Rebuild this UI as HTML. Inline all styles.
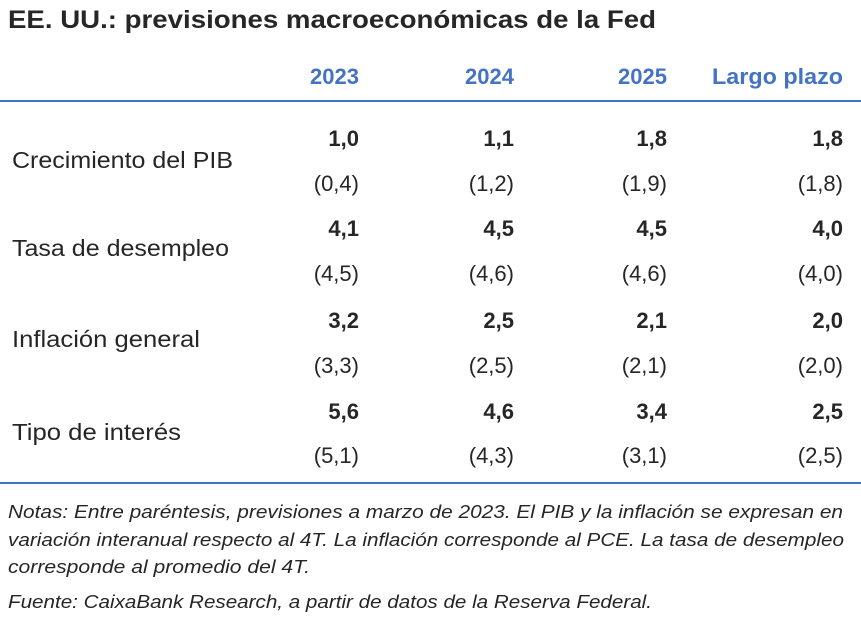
<!DOCTYPE html>
<html><head><meta charset="utf-8"><style>
html,body{margin:0;padding:0;background:#fff;}
svg{display:block;font-family:"Liberation Sans",sans-serif;}
</style></head><body>
<svg width="861" height="618" viewBox="0 0 861 618" xmlns="http://www.w3.org/2000/svg">
<text x="8" y="28" font-size="25" font-weight="bold" fill="#262626" textLength="648" lengthAdjust="spacingAndGlyphs">EE. UU.: previsiones macroeconómicas de la Fed</text>
<g font-size="22" font-weight="bold" fill="#4472C4" text-anchor="end">
<text x="359" y="84">2023</text><text x="514" y="84">2024</text><text x="667" y="84">2025</text><text x="843" y="84" textLength="131" lengthAdjust="spacingAndGlyphs">Largo plazo</text>
</g>
<rect x="0" y="100" width="861" height="2" fill="#4472C4"/>
<rect x="0" y="482" width="861" height="2" fill="#4472C4"/>
<g font-size="23" fill="#262626">
<text x="12" y="168" textLength="221" lengthAdjust="spacingAndGlyphs">Crecimiento del PIB</text>
<text x="12" y="256" textLength="217" lengthAdjust="spacingAndGlyphs">Tasa de desempleo</text>
<text x="12" y="347" textLength="188" lengthAdjust="spacingAndGlyphs">Inflación general</text>
<text x="12" y="440" textLength="169" lengthAdjust="spacingAndGlyphs">Tipo de interés</text>
</g>
<g font-size="22" fill="#262626" text-anchor="end">
<g font-weight="bold">
<text x="359" y="146">1,0</text><text x="514" y="146">1,1</text><text x="667" y="146">1,8</text><text x="843" y="146">1,8</text>
<text x="359" y="236">4,1</text><text x="514" y="236">4,5</text><text x="667" y="236">4,5</text><text x="843" y="236">4,0</text>
<text x="359" y="328">3,2</text><text x="514" y="328">2,5</text><text x="667" y="328">2,1</text><text x="843" y="328">2,0</text>
<text x="359" y="419">5,6</text><text x="514" y="419">4,6</text><text x="667" y="419">3,4</text><text x="843" y="419">2,5</text>
</g>
<text x="359" y="191">(0,4)</text><text x="514" y="191">(1,2)</text><text x="667" y="191">(1,9)</text><text x="843" y="191">(1,8)</text>
<text x="359" y="281">(4,5)</text><text x="514" y="281">(4,6)</text><text x="667" y="281">(4,6)</text><text x="843" y="281">(4,0)</text>
<text x="359" y="373">(3,3)</text><text x="514" y="373">(2,5)</text><text x="667" y="373">(2,1)</text><text x="843" y="373">(2,0)</text>
<text x="359" y="463">(5,1)</text><text x="514" y="463">(4,3)</text><text x="667" y="463">(3,1)</text><text x="843" y="463">(2,5)</text>
</g>
<g font-size="18.5" font-style="italic" fill="#262626">
<text x="8" y="518" textLength="835" lengthAdjust="spacingAndGlyphs">Notas: Entre paréntesis, previsiones a marzo de 2023. El PIB y la inflación se expresan en</text>
<text x="8" y="546" textLength="836" lengthAdjust="spacingAndGlyphs">variación interanual respecto al 4T. La inflación corresponde al PCE. La tasa de desempleo</text>
<text x="8" y="573" textLength="302" lengthAdjust="spacingAndGlyphs">corresponde al promedio del 4T.</text>
<text x="8" y="608" textLength="644" lengthAdjust="spacingAndGlyphs">Fuente: CaixaBank Research, a partir de datos de la Reserva Federal.</text>
</g>
</svg>
</body></html>
